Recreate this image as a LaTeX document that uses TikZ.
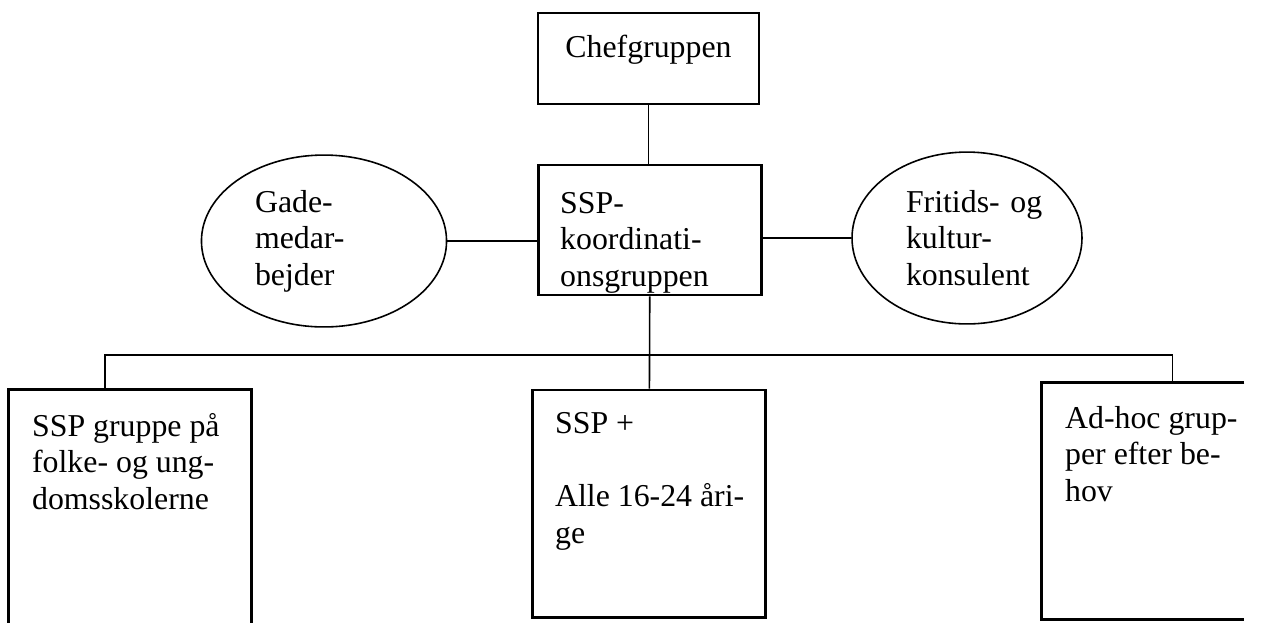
\documentclass[tikz,border=0pt]{standalone}
\usepackage{fontspec}
\setmainfont{Liberation Serif}
\usetikzlibrary{shapes.geometric}

\begin{document}
\begin{tikzpicture}[x=0.377pt,y=-0.377pt]
\tikzset{every node/.style={font=\fontsize{12}{13.8}\selectfont}}
\tikzset{link/.style={line width=0.6pt}}
\tikzset{orgbox/.style={draw, line width=1.1pt, inner sep=0pt}}
\tikzset{ovalbox/.style={draw, ellipse, line width=0.6pt, inner sep=0pt, align=left}}
\tikzset{boxtext/.style={anchor=north west, inner sep=8.7pt, align=left}}
\useasboundingbox (0,0) rectangle (1268,622);

\node[orgbox, line width=0.6pt, minimum width=83.3pt, minimum height=34.3pt,
  label={[anchor=north, inner sep=8.5pt]north:Chefgruppen}] (chef) at (648.5,58.5) {};
\node[orgbox, minimum width=84.4pt, minimum height=49pt,
  label={[boxtext, inner ysep=10.5pt]north west:{SSP-\\koordinati-\\onsgruppen}}] (koord) at (650,230) {};
\node[ovalbox, minimum width=92.4pt, minimum height=64.8pt, text width=52pt] (gade) at (324,241) {Gade-\\medar-\\bejder};
\node[ovalbox, minimum width=86.7pt, minimum height=64.8pt, text width=46pt] (fritid) at (967,238) {\mbox{Fritids- og}\\kultur-\\konsulent};

\node[orgbox, draw=none, minimum width=90.5pt, minimum height=87.1pt,
  label={[boxtext]north west:{SSP gruppe på\\folke- og ung-\\domsskolerne}}] (skole) at (130,506.5) {};
\node[orgbox, minimum width=87.5pt, minimum height=85.6pt,
  label={[boxtext]north west:{SSP +\\[13.8pt]Alle 16-24 åri-\\ge}}] (alle) at (649,503.5) {};
\node[orgbox, draw=none, minimum width=75.4pt, minimum height=88.2pt,
  label={[boxtext]north west:{Ad-hoc grup-\\per efter be-\\hov}}] (adhoc) at (1143,501) {};

% open sides run off the page
\draw[line width=1.1pt] (skole.south west) -- (skole.north west) -- (skole.north east) -- (skole.south east);
\draw[line width=1.1pt] (adhoc.north east) -- (adhoc.north west) -- (adhoc.south west) -- (adhoc.south east);

\draw[link] (chef.south) -- (chef.south |- koord.north);
\draw[link] (gade.east) -- (gade.east -| koord.west);
\draw[link] (fritid.west) -- (fritid.west -| koord.east);
\coordinate (bus) at (649,355);
\draw[link] (koord) -- (alle);
\draw[link] (skole.102) |- (bus) -| (adhoc.76);
\end{tikzpicture}
\end{document}
